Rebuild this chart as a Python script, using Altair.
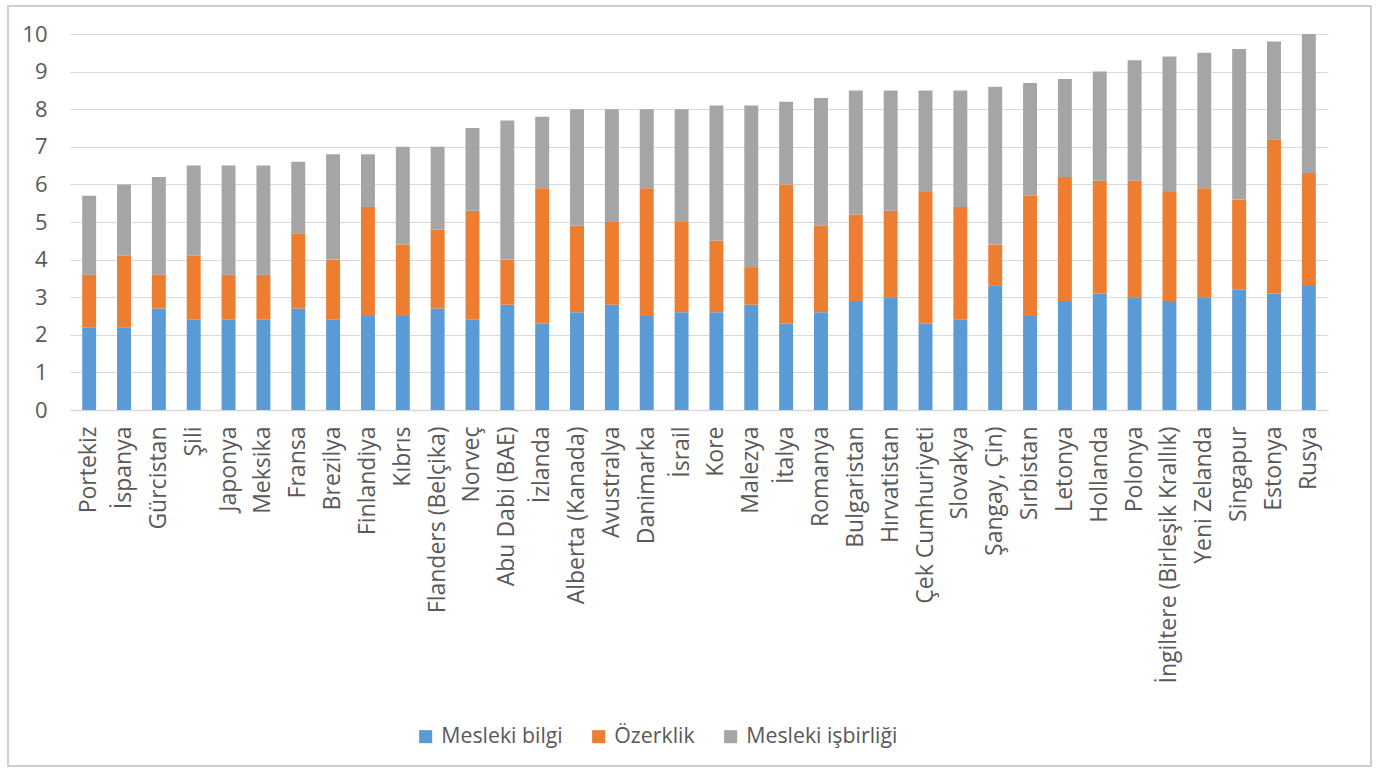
import altair as alt
import pandas as pd

countries = ["Portekiz", "İspanya", "Gürcistan", "Şili", "Japonya", "Meksika", "Fransa", "Brezilya",
             "Finlandiya", "Kıbrıs", "Flanders (Belçika)", "Norveç", "Abu Dabi (BAE)", "İzlanda",
             "Alberta (Kanada)", "Avustralya", "Danimarka", "İsrail", "Kore", "Malezya", "İtalya",
             "Romanya", "Bulgaristan", "Hırvatistan", "Çek Cumhuriyeti", "Slovakya", "Şangay, Çin)",
             "Sırbistan", "Letonya", "Hollanda", "Polonya", "İngiltere (Birleşik Krallık)",
             "Yeni Zelanda", "Singapur", "Estonya", "Rusya"]

mesleki_bilgi = [2.2, 2.2, 2.7, 2.4, 2.4, 2.4, 2.7, 2.4, 2.5, 2.5, 2.7, 2.4, 2.8, 2.3, 2.6, 2.8,
                 2.5, 2.6, 2.6, 2.8, 2.3, 2.6, 2.9, 3.0, 2.3, 2.4, 3.3, 2.5, 2.9, 3.1, 3.0, 2.9,
                 3.0, 3.2, 3.1, 3.3]
ozerklik = [1.4, 1.9, 0.9, 1.7, 1.2, 1.2, 2.0, 1.6, 2.9, 1.9, 2.1, 2.9, 1.2, 3.6, 2.3, 2.2,
            3.4, 2.4, 1.9, 1.0, 3.7, 2.3, 2.3, 2.3, 3.5, 3.0, 1.1, 3.2, 3.3, 3.0, 3.1, 2.9,
            2.9, 2.4, 4.1, 3.0]
isbirligi = [2.1, 1.9, 2.6, 2.4, 2.9, 2.9, 1.9, 2.8, 1.4, 2.6, 2.2, 2.2, 3.7, 1.9, 3.1, 3.0,
             2.1, 3.0, 3.6, 4.3, 2.2, 3.4, 3.3, 3.2, 2.7, 3.1, 4.2, 3.0, 2.6, 2.9, 3.2, 3.6,
             3.6, 4.0, 2.6, 3.7]

series = ["Mesleki bilgi", "Özerklik", "Mesleki işbirliği"]
colors = ["#5B9BD5", "#ED7D31", "#A5A5A5"]

rows = []
for i, c in enumerate(countries):
    for k, (name, vals) in enumerate(zip(series, [mesleki_bilgi, ozerklik, isbirligi])):
        rows.append({"country": c, "series": name, "value": vals[i], "order": k})
df = pd.DataFrame(rows)

FONT = "Open Sans"

bars = alt.Chart(df).mark_bar().encode(
    x=alt.X("country:N", sort=countries, title=None,
            scale=alt.Scale(paddingInner=0.6, paddingOuter=0.35),
            axis=alt.Axis(labelAngle=-90, labelAlign="right", labelBaseline="middle",
                          labelFontSize=23, labelColor="#595959", labelFont=FONT,
                          labelPadding=16, ticks=False, domainColor="#D9D9D9",
                          domainWidth=1.5, labelOverlap=False, labelLimit=400)),
    y=alt.Y("value:Q", title=None, stack="zero",
            scale=alt.Scale(domain=[0, 10], nice=False),
            axis=alt.Axis(values=list(range(0, 11)), labelFontSize=22, labelColor="#595959",
                          labelFont=FONT, ticks=False, domain=False, gridColor="#D9D9D9",
                          gridWidth=1.2, labelPadding=23)),
    color=alt.Color("series:N", sort=series,
                    scale=alt.Scale(domain=series, range=colors),
                    legend=alt.Legend(title=None, orient="none", direction="horizontal",
                                      legendX=345, legendY=692, symbolType="square",
                                      symbolSize=170, labelFontSize=21.3, labelFont=FONT,
                                      labelColor="#595959", columnPadding=25,
                                      symbolStrokeWidth=0, labelOffset=5)),
    order=alt.Order("order:Q", sort="ascending"),
)

frame = alt.Chart(pd.DataFrame({"a": [0]})).mark_rect(
    fill=None, stroke="#D0D0D0", strokeWidth=2
).encode(
    x=alt.value(-62), x2=alt.value(1301), y=alt.value(-28), y2=alt.value(732)
)

chart = alt.layer(frame, bars).properties(
    width=1258, height=376,
    autosize=alt.AutoSizeParams(type="none"),
    padding={"left": 70, "top": 34, "right": 48, "bottom": 364},
    background="white",
).configure_view(stroke=None)

chart.save("out.html", embed_options={"renderer": "svg", "actions": False})
